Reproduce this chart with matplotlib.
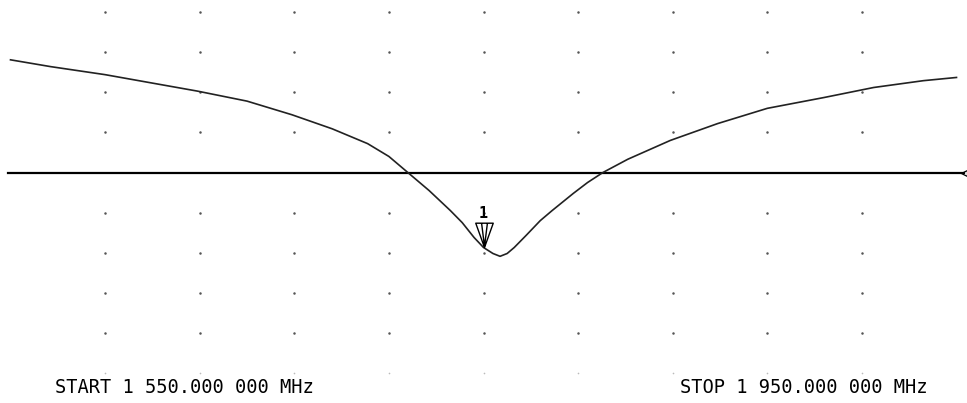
import numpy as np
import matplotlib.pyplot as plt
from matplotlib.path import Path

# network analyzer trace, 1550-1950 MHz, 40 MHz/div, y in graticule divisions
freq_mhz = [1550, 1567, 1590, 1609, 1629, 1650, 1669, 1686, 1701, 1710,
            1718, 1727, 1736, 1741, 1746, 1750, 1754, 1757, 1760, 1763,
            1768, 1774, 1779, 1788, 1794, 1800.5, 1811, 1829, 1849,
            1870, 1894, 1915, 1936, 1950]
trace_div = [2.81, 2.64, 2.44, 2.24, 2.03, 1.78, 1.44, 1.09, 0.72, 0.40,
             0.00, -0.45, -0.95, -1.25, -1.62, -1.87, -2.02, -2.09, -2.02, -1.87,
             -1.57, -1.20, -0.95, -0.52, -0.25, 0.00, 0.33, 0.80, 1.22,
             1.60, 1.87, 2.12, 2.29, 2.37]

marker_freq = 1750
marker_val = -1.87
start_label = 'START 1 550.000 000 MHz'
stop_label = 'STOP 1 950.000 000 MHz'

grid_freq = [1550 + 40*k for k in range(1, 10)]
grid_rows = [4, 3, 2, 1, -1, -2, -3, -4]

fig = plt.figure(figsize=(9.67, 4.03), dpi=100)
ax = fig.add_axes([10.5/967, 30/403, 946/967, 401/403])
ax.set_xlim(1550, 1950)
ax.set_ylim(-5, 5)
ax.axis('off')

# graticule dots
gx, gy = np.meshgrid(grid_freq, grid_rows)
ax.plot(gx.ravel(), gy.ravel(), ls='none', marker='o', ms=1.8, mec='none',
        mfc='#555555')
ax.plot(grid_freq, [-5]*len(grid_freq), ls='none', marker='o', ms=1.2,
        mec='none', mfc='#bbbbbb', clip_on=False)

# reference line + arrow at right edge
ax.plot([1549, 1953], [0, 0], c='black', lw=1.6, clip_on=False)
ax.plot([1953], [0], marker='<', ms=5, mfc='none', mec='black', mew=0.9,
        clip_on=False)

ax.plot(freq_mhz, trace_div, c='#222222', lw=1.2, clip_on=False)

# marker 1 : inverted triangle with tip on the trace
verts = [(-0.36, 1), (0.36, 1), (0, 0), (-0.36, 1),
         (-0.12, 1), (0, 0.05), (0.12, 1)]
codes = [Path.MOVETO, Path.LINETO, Path.LINETO, Path.CLOSEPOLY,
         Path.MOVETO, Path.LINETO, Path.LINETO]
tri = Path(verts, codes)
ax.plot([marker_freq], [marker_val], marker=tri, ms=35, mfc='none',
        mec='black', mew=1.0)
ax.annotate('1', xy=(marker_freq, marker_val), xytext=(0, 19),
            textcoords='offset points', ha='center', va='bottom',
            fontsize=11, family='DejaVu Sans Mono', fontweight='bold')

fig.text(55/967, 1 - 393/403, start_label, ha='left', va='baseline',
         fontsize=13.5, family='DejaVu Sans Mono')
fig.text(928/967, 1 - 393/403, stop_label, ha='right', va='baseline',
         fontsize=13.5, family='DejaVu Sans Mono')

fig.savefig('out.png', dpi=100, facecolor='white')
